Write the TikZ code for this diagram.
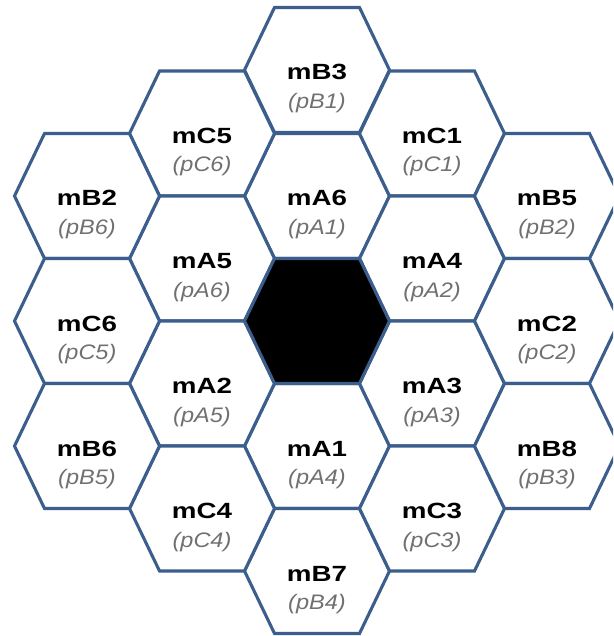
\documentclass[tikz,border=0pt]{standalone}
\usepackage{fontspec}
\setmainfont{Liberation Sans}
\definecolor{hexedge}{HTML}{3B5E8C}
\definecolor{subgray}{HTML}{707070}
\begin{document}
\begin{tikzpicture}[x=1pt,y=-1pt,
  hexcell/.style={draw=hexedge,line width=3.1pt,line join=miter,fill=white},
  namelbl/.style={anchor=base,inner sep=0pt,font=\fontsize{22}{22}\selectfont\bfseries},
  sublbl/.style={anchor=base,inner sep=0pt,text=subgray,font=\fontsize{21}{21}\selectfont\itshape}]
\useasboundingbox (0,0) rectangle (613,636);
\clip (0,0) rectangle (613,636);
% flat-topped hexagonal cells: x/y centre, name, parenthesised label
\foreach \x/\y/\nm/\pl in {
  317/70/mB3/pB1, 317/196/mA6/pA1, 317/446/mA1/pA4, 317/571/mB7/pB4,
  202/133.5/mC5/pC6, 202/258.5/mA5/pA6, 202/383.5/mA2/pA5, 202/508.5/mC4/pC4,
  432/133.5/mC1/pC1, 432/258.5/mA4/pA2, 432/383.5/mA3/pA3, 432/508.5/mC3/pC3,
  87/196/mB2/pB6, 87/321/mC6/pC5, 87/446/mB6/pB5,
  547/196/mB5/pB2, 547/321/mC2/pC2, 547/446/mB8/pB3}{
  \draw[hexcell] (\x-72.5,\y) -- (\x-42.5,\y-62.5) -- (\x+42.5,\y-62.5)
    -- (\x+72.5,\y) -- (\x+42.5,\y+62.5) -- (\x-42.5,\y+62.5) -- cycle;
  \node[namelbl] (n-\nm) at (\x,\y+10) {\scalebox{1.26}[1]{\nm}};
  \node[sublbl] (p-\nm) at (\x,\y+38.5) {\scalebox{1.12}[1]{(\pl)}};
}
% central black cell
\draw[hexcell,fill=black] (317-72.5,321) -- (317-42.5,321-62.5) -- (317+42.5,321-62.5)
  -- (317+72.5,321) -- (317+42.5,321+62.5) -- (317-42.5,321+62.5) -- cycle;
\end{tikzpicture}
\end{document}
